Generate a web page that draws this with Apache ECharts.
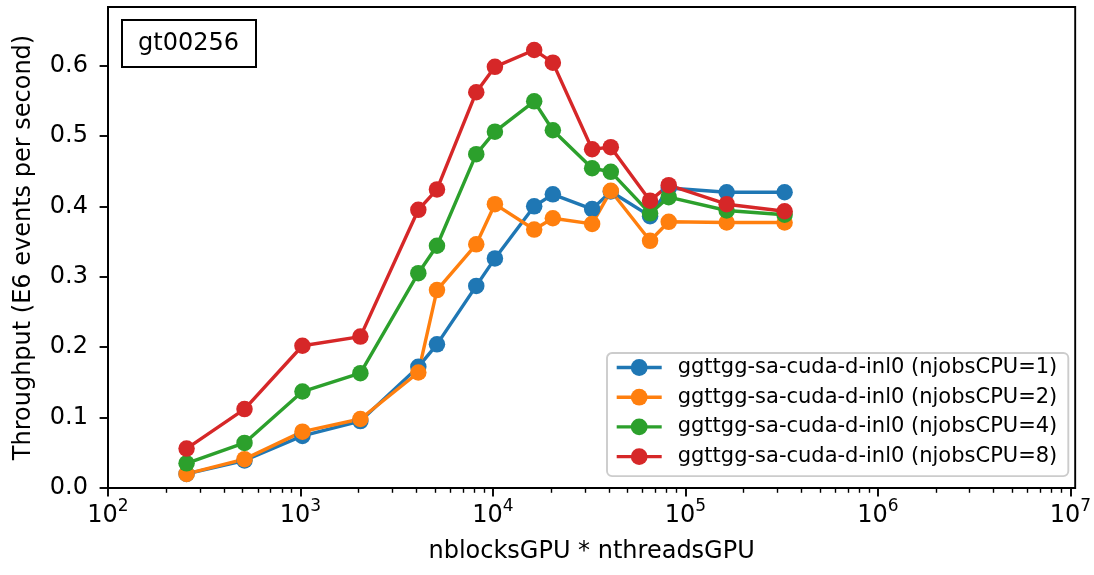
<!DOCTYPE html>
<html>
<head>
<meta charset="utf-8">
<script src="https://cdn.jsdelivr.net/npm/echarts@6/dist/echarts.min.js"></script>
<style>html,body{margin:0;padding:0;background:#fff;}#c{width:1094px;height:575px;}</style>
</head>
<body>
<div id="c"></div>
<script>
const nThreads = [256, 512, 1024, 2048, 4096, 5120, 8192, 10240, 16384, 20480, 32768, 40960, 65536, 81920, 163840, 327680];
const seriesNames = [
  'ggttgg-sa-cuda-d-inl0 (njobsCPU=1)',
  'ggttgg-sa-cuda-d-inl0 (njobsCPU=2)',
  'ggttgg-sa-cuda-d-inl0 (njobsCPU=4)',
  'ggttgg-sa-cuda-d-inl0 (njobsCPU=8)'
];
const tputJobs1 = [0.020, 0.039, 0.074, 0.095, 0.172, 0.204, 0.287, 0.326, 0.400, 0.417, 0.396, 0.421, 0.386, 0.426, 0.420, 0.420];
const tputJobs2 = [0.020, 0.041, 0.080, 0.098, 0.164, 0.281, 0.346, 0.403, 0.367, 0.383, 0.375, 0.422, 0.351, 0.378, 0.377, 0.377];
const tputJobs4 = [0.035, 0.064, 0.137, 0.163, 0.305, 0.344, 0.474, 0.506, 0.549, 0.508, 0.454, 0.449, 0.390, 0.413, 0.394, 0.388];
const tputJobs8 = [0.056, 0.112, 0.202, 0.215, 0.395, 0.424, 0.562, 0.598, 0.622, 0.604, 0.481, 0.484, 0.408, 0.430, 0.403, 0.393];
const xMajorTicks = [1e2, 1e3, 1e4, 1e5, 1e6, 1e7];
const xMinorTicks = [];
[1e2, 1e3, 1e4, 1e5, 1e6].forEach(d => { for (let m = 2; m <= 9; m++) xMinorTicks.push(m * d); });
const yTicks = [0, 0.1, 0.2, 0.3, 0.4, 0.5, 0.6];
const tag = 'gt00256';
const colors = ['#1f77b4', '#ff7f0e', '#2ca02c', '#d62728'];
const allSeries = [tputJobs1, tputJobs2, tputJobs4, tputJobs8];

const FONT = 'DejaVu Sans';
const chart = echarts.init(document.getElementById('c'), null, {renderer: 'canvas'});
const xMin = 100, xMax = 1.06e7;
const option = {
  animation: false,
  backgroundColor: '#fff',
  textStyle: {fontFamily: FONT},
  title: {
    text: tag,
    left: 122, top: 20,
    padding: [11, 17, 10, 16],
    borderColor: '#000', borderWidth: 2,
    backgroundColor: '#fff',
    textStyle: {fontFamily: FONT, fontSize: 24, fontWeight: 'normal', color: '#000', lineHeight: 26}
  },
  grid: {left: 108, right: 15, top: 7, bottom: 87, show: true, borderColor: '#000', borderWidth: 1.9, backgroundColor: 'transparent'},
  legend: {
    orient: 'vertical',
    left: 607, top: 353,
    padding: [4, 11, 9, 8],
    itemWidth: 45, itemHeight: 21, itemGap: 8.7,
    backgroundColor: 'rgba(255,255,255,0.8)',
    borderColor: '#cccccc', borderWidth: 1.9, borderRadius: 5,
    lineStyle: {width: 3.4},
    textStyle: {fontFamily: FONT, fontSize: 21, color: '#000', lineHeight: 21, padding: [0, 0, 0, 11]},
    data: seriesNames
  },
  xAxis: [{
    type: 'log', logBase: 10, min: xMin, max: xMax,
    name: 'nblocksGPU * nthreadsGPU', nameLocation: 'middle', nameGap: 52,
    nameTextStyle: {fontFamily: FONT, fontSize: 24, color: '#000'},
    axisLine: {show: true, onZero: false, lineStyle: {color: '#000', width: 1.9}},
    axisTick: {show: true, inside: false, length: 8.4, lineStyle: {color: '#000', width: 1.9}, customValues: xMajorTicks},
    axisLabel: {
      show: true, margin: 10, customValues: xMajorTicks,
      formatter: v => '{b|10}{s|' + Math.round(Math.log10(v)) + '}',
      rich: {
        b: {fontFamily: FONT, fontSize: 24, color: '#000', lineHeight: 30, verticalAlign: 'bottom'},
        s: {fontFamily: FONT, fontSize: 17, color: '#000', lineHeight: 30, verticalAlign: 'top'}
      }
    },
    splitLine: {show: false}, minorTick: {show: false}
  }, {
    type: 'log', logBase: 10, min: xMin, max: xMax, position: 'bottom',
    axisLine: {show: false},
    axisTick: {show: true, inside: false, length: 4.8, lineStyle: {color: '#000', width: 1.4}, customValues: xMinorTicks},
    axisLabel: {show: false},
    splitLine: {show: false}
  }],
  yAxis: {
    type: 'value', min: 0, max: 0.683,
    name: 'Throughput (E6 events per second)', nameLocation: 'middle', nameGap: 72, nameRotate: 90,
    nameTextStyle: {fontFamily: FONT, fontSize: 24, color: '#000'},
    axisLine: {show: true, lineStyle: {color: '#000', width: 1.9}},
    axisTick: {show: true, inside: false, length: 8.4, lineStyle: {color: '#000', width: 1.9}, customValues: yTicks},
    axisLabel: {show: true, margin: 20, customValues: yTicks, formatter: v => v.toFixed(1), fontFamily: FONT, fontSize: 24, color: '#000'},
    splitLine: {show: false}
  },
  series: allSeries.map((vals, i) => ({
    name: seriesNames[i],
    type: 'line',
    xAxisIndex: 0,
    data: nThreads.map((x, j) => [x, vals[j]]),
    symbol: 'circle', symbolSize: 16.5,
    showSymbol: true,
    color: colors[i],
    lineStyle: {width: 3.4, color: colors[i]},
    itemStyle: {color: colors[i]},
    emphasis: {disabled: true},
    clip: false
  }))
};
chart.setOption(option);
</script>
</body>
</html>
